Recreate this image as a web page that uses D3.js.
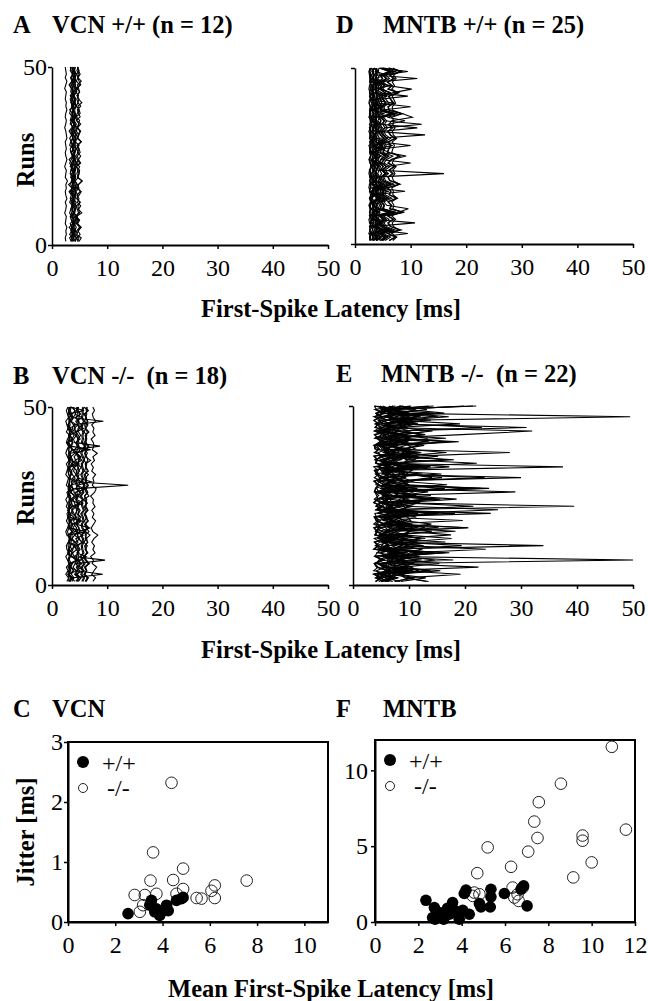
<!DOCTYPE html>
<html>
<head>
<meta charset="utf-8">
<script src="https://cdn.jsdelivr.net/npm/d3@7"></script>
<style>
  body { margin: 0; background: #fff; }
</style>
</head>
<body>
<div id="chart"></div>
<script>
// tick values
var latTicks = [0, 10, 20, 30, 40, 50];
var runTicks = [0, 50];
var vcnXTicks = [0, 2, 4, 6, 8, 10];
var vcnYTicks = [0, 1, 2, 3];
var mntbXTicks = [0, 2, 4, 6, 8, 10, 12];
var mntbYTicks = [0, 5, 10];

// first-spike latency [ms] of runs 1..50, one string per cell
var vcnWT = [
  "2.5 2.4 2.6 2.5 2.7 2.4 2.5 2.6 2.3 2.5 2.6 2.4 2.7 2.5 2.4 2.6 2.5 2.8 2.4 2.5 2.6 2.3 2.5 2.7 2.5 2.4 2.6 2.5 2.4 2.7 2.6 2.5 2.3 2.5 2.6 2.4 2.5 2.7 2.5 2.6 2.4 2.5 2.6 2.3 2.5 2.7 2.4 2.6 2.5 2.4",
  "3.4 3.9 3.2 3.6 3.1 3.8 3.5 3.3 4.1 3.4 3.7 3.2 3.5 3.9 3.3 3.6 3.0 3.8 3.4 3.5 4.2 3.3 3.6 3.1 3.7 3.5 3.9 3.2 3.4 3.8 3.5 3.1 3.6 4.0 3.3 3.5 3.7 3.2 3.9 3.4 3.6 3.3 3.8 3.5 3.1 3.7 3.4 4.0 3.5 3.3",
  "3.5 3.2 3.7 3.4 3.6 3.3 3.9 3.5 3.2 3.4 3.6 3.8 3.3 3.5 3.1 3.7 3.4 3.5 3.9 3.3 3.4 3.6 3.2 3.5 3.8 3.4 3.3 3.7 3.5 3.2 3.6 3.4 3.9 3.3 3.5 3.7 3.2 3.4 3.6 3.5 3.3 3.8 3.4 3.5 3.2 3.6 3.4 3.7 3.3 3.5",
  "3.7 3.9 3.6 3.8 3.5 3.7 4.0 3.6 3.8 3.7 3.9 3.5 3.8 3.7 3.6 4.1 3.7 3.8 3.5 3.9 3.7 3.6 3.8 4.0 3.7 3.5 3.8 3.6 3.9 3.7 3.8 3.6 3.7 4.1 3.5 3.8 3.7 3.9 3.6 3.8 3.7 3.5 3.9 3.7 3.8 3.6 4.0 3.7 3.8 3.6",
  "3.9 3.8 4.0 3.9 3.8 3.9 4.0 3.8 3.9 4.1 3.8 3.9 3.9 4.0 3.7 3.9 3.8 4.0 3.9 3.8 3.9 4.0 3.8 3.9 3.9 4.1 3.8 3.9 4.0 3.8 3.9 3.8 4.0 3.9 3.7 3.9 4.0 3.8 3.9 3.9 4.0 3.8 3.9 4.0 3.8 3.9 3.9 4.1 3.8 3.9",
  "4.0 4.2 3.9 4.1 3.8 4.0 4.3 4.0 3.9 4.1 4.2 3.8 4.0 4.1 3.9 4.3 4.0 3.8 4.1 4.0 3.9 4.2 4.0 4.1 3.8 4.0 4.2 3.9 4.1 4.0 4.3 3.9 4.0 4.2 3.8 4.1 4.0 3.9 4.2 4.0 4.1 3.8 4.0 4.3 3.9 4.1 4.0 4.2 3.9 4.0",
  "4.2 4.5 3.9 4.1 4.4 4.0 4.2 4.6 3.9 4.2 4.1 4.4 3.8 4.2 4.3 4.0 4.5 4.1 4.2 3.9 4.3 4.1 4.6 4.0 4.2 3.9 4.4 4.2 4.1 4.3 3.9 4.2 4.5 4.1 4.0 4.3 4.2 3.8 4.4 4.1 4.2 4.0 4.5 4.1 4.3 3.9 4.2 4.4 4.0 4.2",
  "4.2 4.4 4.1 4.3 4.0 4.2 4.5 4.2 4.1 4.3 4.4 4.0 4.2 4.3 4.1 4.5 4.2 4.0 4.3 4.2 4.1 4.4 4.2 4.3 4.0 4.2 4.4 4.1 4.3 4.2 4.5 4.1 4.2 4.4 4.0 4.3 4.2 4.1 4.4 4.2 4.3 4.0 4.2 4.5 4.1 4.3 4.2 4.4 4.1 4.2",
  "4.6 4.9 4.3 4.5 5.0 4.4 4.7 4.2 4.8 4.6 4.4 5.1 4.5 4.7 4.3 4.9 4.6 4.2 4.8 4.5 4.7 4.4 5.0 4.6 4.3 4.8 4.5 4.9 4.2 4.6 4.8 4.4 4.7 5.2 4.5 4.3 4.6 4.9 4.4 4.7 4.5 4.8 4.3 4.6 5.0 4.4 4.7 4.5 4.9 4.6",
  "4.9 5.3 4.5 4.8 5.2 4.6 5.0 4.4 5.4 4.8 4.7 5.1 4.5 4.9 5.3 4.6 4.8 5.5 4.7 4.9 5.0 4.4 5.2 4.8 4.6 5.1 4.9 4.5 5.3 4.7 4.9 5.2 4.6 4.8 5.0 4.4 5.1 4.9 4.7 5.4 4.8 4.6 5.0 4.5 5.2 4.9 4.7 5.1 4.8 4.6",
  "4.8 4.5 5.1 4.7 5.3 4.6 4.9 4.4 5.0 4.8 5.2 4.6 4.9 4.5 5.1 4.7 4.8 5.4 4.6 4.9 4.7 5.0 4.4 4.8 5.2 4.6 4.9 4.7 5.3 4.5 4.8 5.0 4.6 4.9 4.4 5.1 4.8 4.6 5.2 4.7 4.9 4.5 5.0 4.8 4.6 5.3 4.7 4.9 4.5 4.8",
  "3.7 3.5 3.8 3.6 3.7 3.9 3.6 3.7 3.5 3.8 3.6 3.7 3.9 3.6 3.5 3.7 3.8 3.6 3.7 3.9 3.5 3.7 3.6 3.8 3.7 3.6 3.9 3.7 3.5 3.7 3.8 3.6 3.7 3.5 3.9 3.7 3.6 3.8 3.7 3.6 3.7 3.9 3.6 3.7 3.5 3.8 3.6 3.7 3.8 3.6"
];

var vcnKO = [
  "4.1 3.6 9.2 4.4 3.8 4.2 9.6 4.0 3.7 4.5 3.9 4.3 3.6 4.1 4.6 3.8 4.2 3.9 4.4 4.0 3.7 4.3 4.1 3.8 4.5 4.0 3.9 13.8 4.2 3.7 4.4 3.9 4.1 3.6 4.3 4.0 4.5 3.8 8.7 4.1 3.9 4.4 3.7 4.2 4.0 9.3 3.8 4.3 4.1 3.9",
  "3.2 3.8 2.9 4.5 3.3 3.0 5.1 3.4 2.8 3.6 4.2 3.1 3.5 2.9 6.2 3.3 3.7 3.0 4.0 3.2 2.8 3.6 4.8 3.1 3.4 2.9 3.8 3.3 5.5 3.0 3.5 3.2 2.9 4.1 3.6 3.0 3.3 7.0 3.4 2.9 3.7 3.1 4.4 3.2 2.8 3.5 3.9 3.0 5.8 3.3",
  "4.6 5.3 4.2 5.8 4.7 4.4 5.1 6.2 4.5 4.9 4.3 5.5 4.8 4.1 5.0 6.8 4.6 4.4 5.2 4.7 4.9 4.2 5.6 4.5 4.8 5.3 4.3 4.6 7.1 4.8 4.4 5.0 4.7 4.2 5.4 4.9 4.5 6.0 4.6 4.3 5.1 4.8 4.4 5.7 4.6 4.9 4.2 5.2 4.7 4.5",
  "3.3 3.7 3.1 3.9 3.4 3.2 4.6 3.5 3.0 3.6 3.2 4.1 3.4 3.3 3.8 3.0 3.5 5.2 3.3 3.4 3.7 3.1 3.6 3.2 4.3 3.4 3.0 3.5 3.9 3.2 3.4 3.6 3.1 4.9 3.3 3.5 3.2 3.7 3.4 3.0 3.8 3.3 3.5 3.1 4.4 3.4 3.2 3.6 3.3 3.5",
  "4.3 4.8 4.1 4.5 5.2 4.2 4.6 4.0 4.9 4.4 4.1 4.7 4.3 5.6 4.2 4.5 4.0 4.8 4.4 4.2 4.6 4.1 5.0 4.3 4.5 4.2 6.1 4.4 4.1 4.7 4.3 4.5 4.0 4.8 4.2 5.3 4.4 4.1 4.6 4.3 4.9 4.2 4.5 4.0 4.7 4.3 5.5 4.2 4.4 4.6",
  "7.4 7.9 7.2 7.6 8.1 7.3 7.5 7.0 7.8 7.4 7.7 7.2 7.6 8.3 7.4 7.1 7.5 7.9 7.3 7.6 7.2 7.8 7.4 7.5 7.0 7.7 8.0 7.3 7.6 7.4 7.9 7.2 7.5 7.1 7.7 7.4 8.2 7.3 7.6 7.5 7.1 7.8 7.4 7.6 7.2 7.9 7.5 7.3 7.7 7.4",
  "2.7 3.0 2.5 2.9 2.6 3.2 2.8 2.5 3.0 2.7 2.6 2.9 3.4 2.7 2.5 2.8 3.0 2.6 2.9 2.7 3.1 2.6 2.8 2.5 2.9 2.7 3.3 2.6 2.8 3.0 2.5 2.7 2.9 2.6 3.1 2.8 2.5 2.7 3.0 2.6 2.8 3.2 2.6 2.9 2.7 2.5 3.0 2.8 2.6 2.9",
  "3.2 3.5 3.0 3.4 2.9 3.6 3.1 3.3 3.8 3.0 3.4 3.1 3.3 2.9 3.7 3.2 3.0 3.5 3.1 3.4 3.0 3.6 3.2 3.3 2.9 3.4 3.9 3.1 3.2 3.0 3.5 3.3 3.0 3.6 3.1 3.2 3.4 2.9 3.3 3.7 3.1 3.2 3.5 3.0 3.3 3.1 3.6 3.2 3.0 3.4",
  "3.6 4.0 3.5 3.9 3.4 3.7 4.3 3.6 3.5 3.8 3.9 3.4 3.7 3.6 4.1 3.5 3.8 3.4 4.4 3.7 3.6 3.9 3.5 3.7 4.0 3.4 3.8 3.6 3.5 4.2 3.7 3.5 3.9 3.6 3.8 3.4 4.1 3.7 3.5 3.8 3.6 4.0 3.5 3.7 3.9 3.4 3.8 3.6 4.2 3.5",
  "4.8 5.2 4.6 5.0 4.5 5.4 4.7 4.9 4.6 5.1 4.7 5.5 4.8 4.6 5.0 4.9 4.5 5.3 4.7 4.8 5.1 4.6 4.9 5.6 4.7 4.5 5.0 4.8 5.2 4.6 4.9 4.7 5.3 4.6 4.8 5.0 4.5 5.1 4.7 4.9 4.6 5.2 4.8 4.7 5.4 4.6 4.9 5.0 4.7 4.8",
  "4.5 4.9 4.3 4.7 4.4 5.1 4.6 4.4 4.8 4.5 4.7 4.3 5.0 4.6 4.5 4.9 4.4 4.7 5.2 4.5 4.4 4.8 4.6 4.3 4.7 5.0 4.5 4.6 4.4 4.9 4.6 4.4 4.8 4.5 5.1 4.7 4.3 4.6 4.9 4.5 4.7 4.5 4.4 5.0 4.6 4.8 4.4 4.7 4.5 4.6",
  "5.4 5.7 5.2 5.5 5.3 5.8 5.4 5.1 5.6 5.4 5.3 5.6 5.5 5.2 5.9 5.4 5.3 5.6 5.5 5.2 5.7 5.4 5.3 5.5 5.1 5.6 5.4 5.8 5.3 5.5 5.2 5.6 5.4 5.3 5.7 5.5 5.2 5.4 5.9 5.3 5.5 5.4 5.6 5.2 5.4 5.7 5.3 5.5 5.4 5.6",
  "5.6 5.9 5.4 5.7 5.5 6.0 5.6 5.3 5.8 5.6 5.5 5.8 5.7 5.4 6.1 5.6 5.5 5.8 5.7 5.4 5.9 5.6 5.5 5.7 5.3 5.8 5.6 6.0 5.5 5.7 5.4 5.8 5.6 5.5 5.9 5.7 5.4 5.6 6.1 5.5 5.7 5.6 5.8 5.4 5.6 5.9 5.5 5.7 5.6 5.8",
  "6.1 6.6 5.8 6.3 5.9 6.8 6.2 5.7 6.5 6.0 6.4 5.8 6.2 6.9 6.0 6.3 5.9 6.6 6.1 5.8 6.5 6.0 6.3 5.7 6.7 6.2 5.9 6.4 6.1 6.0 5.8 6.6 6.2 6.0 7.0 6.1 5.9 6.3 6.5 5.8 6.2 6.0 6.7 6.1 5.9 6.4 6.2 5.8 6.6 6.1",
  "6.0 6.4 5.8 6.2 5.9 6.6 6.0 5.7 6.3 6.1 5.9 6.5 6.0 6.2 5.8 6.7 6.1 5.9 6.3 6.0 6.2 5.8 6.4 6.0 5.9 6.5 6.1 5.7 6.2 6.0 6.6 5.9 6.1 6.3 5.8 6.0 6.4 6.1 5.9 6.2 6.0 6.3 5.8 6.1 6.5 5.9 6.2 6.0 6.4 5.8",
  "6.2 6.5 6.0 6.3 6.1 6.6 6.2 5.9 6.4 6.2 6.1 6.4 6.3 6.0 6.7 6.2 6.1 6.4 6.3 6.0 6.5 6.2 6.1 6.3 5.9 6.4 6.2 6.6 6.1 6.3 6.0 6.4 6.2 6.1 6.5 6.3 6.0 6.2 6.7 6.1 6.3 6.2 6.4 6.0 6.2 6.5 6.1 6.3 6.2 6.4",
  "3.0 3.1 2.9 3.0 3.2 3.0 2.9 3.1 3.0 3.2 2.9 3.0 3.1 3.0 2.8 3.1 3.0 3.2 2.9 3.0 3.1 3.0 2.9 3.2 3.0 3.1 2.9 3.0 3.1 3.3 3.0 2.9 3.1 3.0 3.2 2.9 3.0 3.1 3.0 2.8 3.1 3.0 3.2 2.9 3.0 3.1 3.0 2.9 3.1 3.0",
  "3.1 3.4 3.0 3.2 3.5 3.1 3.0 3.3 3.2 2.9 3.4 3.1 3.2 3.0 3.6 3.2 3.1 3.3 2.9 3.2 3.0 3.3 3.1 3.5 3.2 3.0 3.4 3.1 3.2 3.3 3.1 2.9 3.3 3.2 3.0 3.4 3.1 3.6 3.2 3.0 3.3 3.1 3.2 3.4 3.0 3.2 3.1 3.5 3.0 3.2"
];

var mntbWT = [
  "2.6 2.8 2.5 2.7 3.1 2.6 2.5 2.9 2.6 2.7 2.5 2.8 2.6 3.4 2.7 2.5 2.6 2.9 2.7 2.5 2.6 3.0 2.7 2.5 2.8 2.6 2.7 2.5 3.2 2.6 2.7 2.5 2.8 2.6 2.9 2.5 2.7 2.6 2.8 2.5 2.6 3.3 2.7 2.5 2.6 2.8 2.7 2.6 2.5 2.7",
  "2.8 3.4 2.6 5.2 2.9 2.7 3.1 2.6 4.3 2.8 2.7 3.0 2.6 2.9 6.1 2.8 2.7 3.3 2.6 2.9 2.7 2.8 3.6 2.6 2.9 2.7 5.0 2.8 2.6 3.1 2.7 2.9 2.6 3.8 2.8 2.7 2.6 3.0 2.9 7.2 2.8 2.6 3.2 2.7 2.9 4.6 2.7 2.8 2.6 3.0",
  "2.7 2.6 2.9 2.6 2.8 2.7 3.1 2.6 2.7 2.9 2.6 2.8 2.7 3.2 2.6 2.7 2.9 2.6 2.8 2.7 2.6 3.0 2.7 2.6 2.8 2.9 2.6 2.7 3.3 2.6 2.8 2.7 2.6 2.9 2.7 3.0 2.6 2.8 2.7 2.6 2.9 2.7 2.6 2.8 3.1 2.6 2.7 2.9 2.6 2.8",
  "3.0 3.5 2.8 3.2 2.9 4.1 3.0 2.8 3.3 2.9 3.6 2.8 3.0 3.1 2.9 4.4 2.8 3.2 3.0 2.9 3.4 2.8 3.1 2.9 3.9 3.0 2.8 3.2 2.9 3.5 2.8 3.0 4.6 2.9 3.1 2.8 3.3 3.0 2.9 3.7 3.0 2.8 3.2 2.9 4.0 3.1 2.8 3.0 3.4 2.9",
  "3.2 3.1 3.3 3.2 3.0 3.4 3.1 3.2 3.3 3.1 3.2 3.5 3.1 3.2 3.0 3.3 3.2 3.1 3.4 3.2 3.1 3.3 3.2 3.0 3.2 3.4 3.1 3.3 3.2 3.1 3.3 3.2 3.1 3.5 3.2 3.0 3.3 3.1 3.2 3.4 3.2 3.1 3.3 3.2 3.1 3.4 3.2 3.0 3.3 3.2",
  "3.2 3.9 3.0 5.4 3.3 3.1 3.6 3.0 3.4 4.5 3.1 3.3 3.0 3.7 3.2 6.0 3.1 3.4 3.0 3.5 3.2 3.0 4.2 3.1 3.3 3.0 3.6 3.2 5.1 3.1 3.4 3.0 3.2 3.8 3.1 3.0 4.7 3.3 3.1 3.2 3.0 3.5 3.1 3.3 6.4 3.2 3.0 3.4 3.1 3.6",
  "3.4 3.8 3.2 3.5 3.3 4.2 3.4 3.1 3.6 3.3 3.5 3.2 3.9 3.3 3.4 3.2 4.5 3.3 3.5 3.2 3.4 3.7 3.2 3.3 3.6 3.1 3.4 4.0 3.3 3.5 3.2 3.4 3.3 3.8 3.2 3.5 3.3 3.1 4.4 3.4 3.3 3.6 3.2 3.4 3.3 3.9 3.2 3.5 3.3 3.4",
  "3.3 3.9 3.1 4.6 3.4 10.8 3.2 3.6 3.1 4.0 3.3 3.2 5.2 3.4 3.1 3.7 3.2 3.5 3.1 3.9 3.3 3.2 3.6 3.1 4.8 3.3 3.2 3.5 3.1 3.4 3.6 3.2 3.1 4.2 3.3 3.2 3.5 3.1 3.7 3.3 3.2 5.8 3.4 3.1 3.3 3.6 3.2 3.4 3.1 3.5",
  "3.5 4.1 3.3 3.8 3.4 4.6 3.5 3.3 3.9 3.4 3.6 3.3 4.2 3.5 9.0 3.4 3.7 3.3 3.5 4.0 3.4 3.6 3.3 3.8 3.5 3.3 4.4 3.5 3.4 3.7 3.3 3.9 3.5 3.4 3.6 3.3 4.1 3.5 3.4 3.8 3.5 3.3 3.7 4.3 3.4 3.6 3.3 3.5 3.9 3.4",
  "3.8 4.2 3.6 3.9 3.7 4.5 3.8 3.6 4.0 3.7 3.9 3.6 4.3 3.7 3.8 3.6 4.7 3.7 3.9 3.6 3.8 4.1 3.6 3.7 4.0 3.5 3.8 4.4 3.7 3.9 3.6 3.8 3.7 4.2 3.6 3.9 3.7 3.5 4.6 3.8 3.7 4.0 3.6 3.8 3.7 4.3 3.6 3.9 3.7 3.8",
  "3.9 4.5 9.5 4.1 3.8 4.8 3.9 3.7 4.3 3.8 4.0 3.7 4.6 3.9 4.1 3.7 5.1 3.8 4.0 3.7 3.9 4.4 3.7 3.8 4.2 3.6 3.9 4.7 3.8 4.0 3.7 3.9 3.8 4.5 3.7 4.0 3.8 3.6 4.9 3.9 3.8 4.2 3.7 3.9 3.8 4.6 3.7 4.0 3.8 3.9",
  "3.8 4.6 3.5 5.5 3.9 3.6 4.2 3.5 6.3 3.7 3.9 3.5 4.4 3.7 3.6 5.0 3.8 3.5 4.1 3.6 3.9 3.5 4.7 3.8 3.6 4.0 3.5 6.8 3.7 3.9 12.6 3.6 4.3 3.5 3.8 3.6 5.2 3.7 3.5 4.0 3.6 9.5 3.8 3.5 4.4 3.7 3.6 5.6 3.8 3.5",
  "3.9 4.7 3.6 5.1 3.8 3.6 4.4 3.7 6.0 3.8 4.0 3.6 4.8 3.7 3.9 3.6 5.4 3.8 3.6 16.0 3.8 4.2 3.6 3.9 4.6 3.7 3.8 3.6 5.8 3.9 3.7 4.3 3.6 3.8 3.9 3.6 6.5 3.8 3.7 4.1 3.6 3.9 4.8 3.7 3.8 3.6 11.2 3.8 4.2 3.7",
  "4.5 5.3 4.2 6.0 4.6 4.3 5.0 4.2 6.6 4.5 4.7 4.3 5.4 4.4 4.6 4.2 5.9 4.5 4.3 4.8 4.4 5.1 4.3 4.6 5.6 4.2 4.5 4.7 4.3 5.2 4.5 4.3 4.9 4.4 4.6 4.2 7.1 4.5 10.0 4.4 4.6 4.3 5.5 4.4 4.7 4.2 4.9 4.5 6.2 4.3",
  "4.6 5.4 4.4 5.8 4.7 4.5 5.2 4.4 6.3 4.6 4.8 4.4 5.5 4.6 4.7 4.4 5.0 4.6 4.5 5.9 4.6 5.1 4.4 4.7 5.6 4.5 4.6 10.0 4.4 5.2 4.6 4.4 4.9 4.5 4.7 4.4 6.7 4.6 4.5 4.8 4.7 4.4 5.3 4.5 4.8 4.4 5.0 4.6 6.1 4.5",
  "4.8 5.9 4.5 6.8 5.0 4.6 5.6 4.5 7.4 4.9 5.2 4.6 6.1 4.8 5.0 4.5 6.5 4.9 4.6 5.4 4.8 5.7 10.0 4.6 5.1 6.2 4.7 4.9 4.5 5.8 4.9 4.6 11.2 4.7 5.3 4.5 7.0 4.8 4.6 5.5 5.0 4.7 6.3 4.6 5.2 4.5 5.7 4.9 6.9 4.7",
  "4.9 5.8 4.6 6.5 5.1 4.7 5.5 4.6 7.2 5.0 5.3 4.7 6.0 4.9 5.1 4.6 6.4 5.0 4.7 5.4 4.9 5.6 4.7 5.2 6.1 4.6 4.8 5.0 4.6 5.7 5.0 4.7 5.3 12.0 5.2 4.6 6.9 4.9 4.7 5.5 5.1 4.8 6.2 4.7 5.3 4.6 5.6 5.0 9.5 4.8",
  "5.1 5.8 4.9 6.2 5.2 5.0 5.6 4.9 6.7 5.1 5.3 4.9 5.9 5.1 5.2 4.9 6.4 5.2 5.0 5.5 5.1 5.7 4.9 5.2 6.0 5.0 5.1 5.3 4.9 5.8 5.2 4.9 5.4 5.0 5.3 4.9 7.1 5.1 5.0 5.6 5.2 4.9 6.3 5.0 5.4 4.9 5.7 5.1 6.5 5.0",
  "5.4 6.4 5.1 7.2 5.6 5.2 6.1 5.1 7.8 9.6 5.7 5.2 6.6 5.4 5.6 5.1 7.0 5.5 5.2 6.0 5.4 6.3 5.2 5.7 6.8 5.1 5.3 5.6 5.2 6.4 5.5 5.2 5.9 5.3 5.7 5.1 7.5 5.4 5.2 6.1 5.6 5.3 6.9 10.2 5.8 5.1 6.2 5.5 7.3 5.3",
  "6.2 7.4 5.9 8.3 6.4 6.0 7.0 5.9 8.9 6.3 6.6 6.0 7.6 6.2 6.5 5.9 8.1 6.3 6.0 6.9 6.2 7.2 6.0 6.6 9.2 5.9 6.1 6.5 6.0 7.3 6.4 6.0 6.8 6.1 6.6 10.3 8.6 6.2 6.0 7.0 6.5 6.1 7.9 6.0 6.7 5.9 7.1 6.3 8.4 6.1",
  "6.1 7.2 5.8 8.0 6.3 5.9 6.8 5.8 8.7 6.2 6.5 5.9 7.4 6.1 6.4 5.8 7.9 6.2 5.9 6.7 6.1 7.0 5.9 6.5 8.2 5.8 6.0 6.4 5.9 7.1 6.3 5.9 6.6 6.0 9.0 5.8 8.4 6.1 5.9 6.8 6.4 6.0 7.7 5.9 6.6 5.8 6.9 6.2 8.1 6.0",
  "6.8 7.5 6.6 7.9 6.9 6.7 7.3 6.6 8.3 6.8 7.0 6.6 7.6 6.8 6.9 6.6 8.0 6.9 6.7 7.2 6.8 7.4 6.7 7.0 7.8 6.6 6.8 7.1 6.7 7.5 6.9 6.7 7.2 6.8 7.0 6.6 8.5 6.8 6.7 7.3 7.0 6.7 7.7 6.6 7.1 6.7 7.4 6.9 8.1 6.8",
  "4.3 4.7 4.1 4.4 4.2 4.9 4.3 4.1 4.5 4.2 4.4 4.1 4.8 4.2 4.3 4.1 5.0 4.2 4.4 4.1 4.3 4.6 4.1 4.2 4.5 4.0 4.3 4.9 4.2 4.4 4.1 4.3 4.2 4.7 4.1 4.4 4.2 4.0 5.1 4.3 4.2 4.5 4.1 4.3 4.2 4.8 4.1 4.4 4.2 4.3",
  "2.8 2.7 2.9 2.8 2.6 3.0 2.7 2.8 2.9 2.7 2.8 3.1 2.7 2.8 2.6 2.9 2.8 2.7 3.0 2.8 2.7 2.9 2.8 2.6 2.8 3.0 2.7 2.9 2.8 2.7 2.9 2.8 2.7 3.1 2.8 2.6 2.9 2.7 2.8 3.0 2.8 2.7 2.9 2.8 2.7 3.0 2.8 2.6 2.9 2.8",
  "3.9 3.8 4.0 3.9 3.7 4.1 3.8 3.9 4.0 3.8 3.9 4.2 3.8 3.9 3.7 4.0 3.9 3.8 4.1 3.9 3.8 4.0 3.9 3.7 3.9 4.1 3.8 4.0 3.9 3.8 4.0 3.9 3.8 4.2 3.9 3.7 4.0 3.8 3.9 4.1 3.9 3.8 4.0 3.9 3.8 4.1 3.9 3.7 4.0 3.9"
];

var mntbKO = [
  "6.5 4.8 9.2 5.6 22.4 7.1 50.0 5.3 8.4 6.2 12.6 4.9 7.8 5.7 18.3 6.4 5.1 9.6 7.0 14.2 5.5 39.5 6.8 5.0 11.3 7.4 5.8 9.9 6.1 23.5 5.2 8.7 6.6 5.4 16.8 7.2 5.6 10.4 6.0 8.1 5.3 12.9 7.5 31.0 5.9 9.3 49.5 6.7 5.4 21.4",
  "5.2 7.6 4.5 13.8 6.1 4.8 9.4 5.5 17.2 4.9 34.0 5.3 8.2 4.6 6.9 11.7 5.0 7.3 4.7 9.8 5.4 6.5 4.8 15.6 7.0 29.0 5.1 8.6 4.9 6.3 12.4 5.6 37.5 4.8 7.9 5.2 10.5 6.0 4.7 8.8 5.3 19.4 32.0 6.2 4.9 9.1 5.7 14.5 5.0 7.2",
  "4.6 6.8 4.2 9.5 5.3 4.4 12.3 4.9 7.4 4.3 5.8 16.5 4.5 8.1 5.0 4.3 10.2 5.6 4.7 6.9 4.4 8.8 5.1 4.6 13.9 4.3 6.2 5.4 4.5 30.0 5.0 7.7 4.4 6.5 4.8 11.1 28.0 5.2 4.6 8.3 4.9 6.0 4.3 9.7 5.5 4.5 15.2 4.8 7.1 5.3",
  "5.0 7.9 4.6 10.8 5.6 4.8 8.6 5.3 14.1 4.7 6.4 5.1 9.3 4.9 5.8 20.5 5.2 7.0 4.8 11.6 5.4 8.2 4.7 6.1 5.5 4.9 24.3 5.3 7.5 4.8 6.6 5.0 12.8 5.7 4.9 8.9 5.4 6.3 4.7 17.4 5.2 9.6 4.8 6.8 5.5 13.3 5.0 7.6 4.9 22.0",
  "5.0 6.7 5.3 10.1 5.2 6.2 17.9 5.5 7.6 5.1 12.4 5.7 8.8 5.0 6.5 5.8 5.2 19.6 5.6 7.9 5.1 7.0 5.3 14.2 6.0 5.2 9.5 5.7 6.8 5.0 15.8 5.5 10.4 5.1 7.3 5.8 11.9 5.3 8.1 5.2 16.6 5.4 8.4 4.9 11.6 6.0 5.1 9.2 5.6 13.5",
  "5.6 7.8 5.1 10.2 6.0 5.3 8.4 5.7 12.5 5.2 6.5 5.4 9.1 5.3 6.1 15.3 5.6 7.2 5.2 10.9 5.8 8.0 5.1 6.3 5.9 5.3 16.4 5.7 7.5 5.2 6.6 5.4 11.8 6.0 5.3 8.7 5.8 6.4 5.1 13.6 5.6 9.3 5.2 6.9 5.9 10.6 5.4 7.7 5.3 14.4",
  "4.1 5.2 3.8 6.7 4.3 3.9 5.5 4.0 9.8 3.8 4.6 3.9 7.1 4.0 4.4 3.8 5.9 4.2 3.9 24.6 4.2 5.4 3.8 4.5 6.2 3.9 4.1 4.7 3.8 5.8 4.3 3.9 6.5 4.1 4.4 3.8 8.2 4.0 3.9 5.1 4.5 3.9 6.9 4.0 4.6 3.8 5.3 4.2 7.4 3.9",
  "4.0 4.9 3.7 6.2 4.2 3.8 5.1 3.9 8.6 3.7 4.4 3.8 6.6 3.9 4.2 3.7 5.5 4.1 3.8 18.2 4.1 5.0 3.7 4.3 5.8 3.8 4.0 4.5 3.7 5.4 4.2 3.8 6.0 4.0 4.3 3.7 7.5 3.9 3.8 4.8 4.4 3.8 6.3 3.9 4.5 3.7 4.9 4.1 6.8 3.8",
  "8.4 5.6 4.9 7.0 5.3 10.3 4.8 5.9 5.0 7.6 5.1 5.7 12.9 5.2 6.2 4.9 8.9 5.4 6.8 4.8 5.8 5.5 5.0 14.0 5.3 6.4 4.9 6.0 5.1 9.5 5.6 5.0 7.3 5.4 5.9 4.8 11.4 5.3 7.8 4.9 6.1 5.6 8.7 5.1 6.6 5.0 12.1 5.2 6.6 4.8",
  "7.6 10.3 6.9 13.8 8.1 7.2 11.2 7.8 16.4 7.0 8.7 7.3 12.1 7.4 8.3 20.6 7.7 9.4 7.1 14.6 7.9 10.8 7.0 8.5 8.0 7.3 22.8 7.8 9.9 7.1 9.0 7.4 17.2 8.2 7.3 11.7 7.9 8.6 7.0 18.9 7.6 12.6 7.2 9.2 8.1 13.9 7.5 10.1 7.3 19.8",
  "7.4 11.0 8.0 15.6 7.2 8.9 7.5 11.9 7.6 8.5 19.4 7.9 9.6 7.3 14.1 8.1 10.6 7.2 8.7 8.2 7.5 21.5 8.0 10.0 7.3 9.2 7.6 16.8 8.4 7.5 11.5 8.1 8.8 7.2 18.0 7.8 12.2 7.4 9.4 8.3 13.4 7.7 10.3 7.5 19.1 7.8 10.1 7.1 13.2 8.3",
  "13.5 9.4 19.2 8.5 10.6 8.8 14.6 9.0 10.1 23.7 9.3 11.4 8.6 17.5 9.6 12.9 8.5 10.3 9.7 8.8 25.9 9.4 11.9 8.6 10.9 9.0 20.3 10.0 8.9 14.1 9.5 10.5 8.5 22.1 9.2 15.2 8.7 11.1 9.8 16.6 9.1 12.2 8.9 23.0 9.2 12.4 8.4 16.3 9.8 8.7",
  "13.1 9.2 8.4 11.8 8.9 15.4 8.3 9.7 8.5 12.4 8.6 9.4 17.6 8.8 10.3 8.4 14.0 9.0 11.3 8.3 9.6 9.1 8.5 18.5 8.9 10.8 8.4 9.9 8.6 15.9 9.3 8.5 12.0 9.0 9.8 8.3 16.7 8.8 12.7 8.4 10.1 9.2 13.5 8.7 11.1 8.5 17.1 8.8 11.0 8.2",
  "8.5 13.0 8.0 9.1 8.2 10.9 8.3 8.9 14.6 8.4 9.5 8.1 12.2 8.6 10.1 8.0 9.0 8.7 8.2 15.3 8.5 9.8 8.1 9.3 8.3 13.4 8.8 8.2 10.7 8.6 9.2 8.0 13.9 8.4 11.2 8.1 9.6 8.8 11.8 8.3 10.0 8.2 14.2 8.4 9.9 7.9 11.5 8.7 8.1 10.4",
  "5.7 6.9 5.3 8.1 5.9 5.4 7.3 5.8 9.4 5.3 6.3 5.5 7.7 5.6 6.0 10.8 5.7 6.6 5.4 8.6 5.8 7.0 5.3 6.2 5.9 5.5 11.5 5.8 6.8 5.4 6.4 5.6 9.0 6.0 5.5 7.5 5.8 6.3 5.3 9.9 5.7 7.9 5.4 6.5 5.9 8.3 5.6 7.1 5.5 10.2",
  "5.8 8.0 6.3 5.9 7.4 6.2 8.9 5.8 6.6 6.0 7.7 6.0 6.4 9.8 6.1 6.9 5.9 8.3 6.2 7.2 5.8 6.5 6.3 6.0 10.4 6.2 7.0 5.9 6.7 6.0 8.6 6.4 6.0 7.5 6.2 6.6 5.8 9.2 6.1 7.8 5.9 6.8 6.3 8.1 6.0 7.3 6.0 9.5 6.1 7.1",
  "6.1 7.2 6.3 8.3 6.0 6.7 6.1 7.4 6.2 6.5 8.9 6.3 6.9 6.1 7.9 6.4 7.1 6.0 6.6 6.4 6.1 9.3 6.3 7.0 6.1 6.8 6.2 8.1 6.5 6.1 7.3 6.3 6.7 6.0 8.6 6.3 7.6 6.1 6.9 6.4 7.8 6.2 7.2 6.1 8.8 6.3 7.0 6.0 7.7 6.4",
  "6.3 5.8 7.7 6.2 9.9 5.7 6.7 5.9 8.1 6.0 6.4 11.3 6.1 7.0 5.8 9.1 6.2 7.5 5.7 6.6 6.3 5.9 12.0 6.2 7.2 5.8 6.8 6.0 9.5 6.4 5.9 7.9 6.2 6.7 5.7 10.4 6.1 8.3 5.8 6.9 6.3 8.8 6.0 7.6 5.9 10.7 6.1 7.4 5.7 8.6",
  "7.1 4.0 4.8 4.2 5.9 4.2 4.6 8.0 4.3 5.1 4.1 6.5 4.4 5.4 4.0 4.7 4.5 4.2 8.6 4.4 5.2 4.1 4.9 4.2 6.8 4.6 4.2 5.7 4.4 4.8 4.0 7.4 4.3 6.0 4.1 5.0 4.5 6.3 4.2 5.5 4.2 7.7 4.3 5.3 4.0 6.2 4.5 4.1 5.6 4.4",
  "5.3 4.1 6.8 3.7 4.5 3.9 5.6 3.9 4.3 7.6 4.0 4.8 3.8 6.2 4.1 5.1 3.7 4.4 4.2 3.9 8.2 4.1 4.9 3.8 4.6 3.9 6.5 4.3 3.9 5.4 4.1 4.5 3.7 7.0 4.0 5.7 3.8 4.7 4.2 6.0 3.9 5.2 3.9 7.3 4.0 5.0 3.7 5.9 4.2 3.8",
  "6.0 6.9 5.7 7.7 6.2 5.8 7.1 6.1 8.5 5.7 6.5 5.9 7.4 5.9 6.3 9.3 6.0 6.8 5.8 8.0 6.1 7.0 5.7 6.4 6.2 5.9 9.8 6.1 6.9 5.8 6.6 5.9 8.3 6.3 5.9 7.2 6.1 6.5 5.7 8.8 6.0 7.5 5.8 6.7 6.2 7.8 5.9 7.0 5.9 9.0",
  "4.0 5.1 3.7 6.1 4.2 3.8 5.4 4.1 7.1 3.7 4.6 3.9 5.8 3.9 4.3 8.0 4.0 4.9 3.8 6.4 4.1 5.2 3.7 4.5 4.2 3.9 8.7 4.1 5.0 3.8 4.7 3.9 6.8 4.3 3.9 5.5 4.1 4.6 3.7 7.3 4.0 5.9 3.8 4.8 4.2 6.2 3.9 5.3 3.9 7.6"
];

// mean first-spike latency [ms] and jitter [ms] per cell
var vcnWTMean   = [2.54, 3.53, 3.46, 3.74, 3.88, 4.03, 4.17, 4.24, 4.59, 4.87, 4.80, 3.67];
var vcnWTJitter = [0.14, 0.36, 0.28, 0.22, 0.11, 0.19, 0.28, 0.19, 0.36, 0.41, 0.39, 0.17];
var vcnKOMean   = [4.38, 3.60, 4.87, 3.49, 4.45, 7.56, 2.82, 3.25, 3.74, 4.87, 4.59, 5.44, 5.65, 6.21, 6.07, 6.21, 3.04, 3.18];
var vcnKOJitter = [2.32, 1.16, 0.89, 0.69, 0.70, 0.69, 0.45, 0.45, 0.47, 0.55, 0.47, 0.40, 0.39, 0.61, 0.52, 0.40, 0.17, 0.28];
var mntbWTMean   = [2.35, 2.74, 2.66, 2.97, 3.17, 3.35, 3.43, 3.58, 3.66, 3.82, 4.05, 4.12, 4.20, 4.82, 4.89, 5.35, 5.35, 5.32, 5.97, 6.86, 6.74, 7.02, 4.35, 2.77, 3.89];
var mntbWTJitter = [1.43, 0.95, 0.29, 0.62, 0.18, 0.91, 0.51, 1.28, 0.77, 0.51, 0.77, 1.88, 2.10, 1.21, 0.99, 2.16, 1.66, 0.99, 1.88, 2.38, 2.16, 1.06, 0.51, 0.18, 0.18];
var mntbKOMean   = [10.93, 8.58, 7.56, 7.35, 7.50, 7.07, 5.20, 4.72, 6.28, 9.58, 9.58, 11.58, 10.00, 9.15, 6.35, 6.58, 6.63, 6.82, 4.82, 4.51, 6.43, 4.58];
var mntbKOJitter = [11.55, 9.12, 7.90, 6.62, 5.54, 4.64, 4.92, 3.22, 3.64, 5.70, 5.36, 6.09, 3.93, 2.94, 2.27, 1.83, 1.39, 2.27, 1.83, 1.72, 1.61, 1.94];

var FONT = "'Liberation Serif', 'Times New Roman', Times, 'DejaVu Serif', serif";
var W = 648, H = 1001;
var svg = d3.select("#chart").append("svg")
    .attr("width", W)
    .attr("height", H)
    .attr("font-family", FONT)
    .style("font-family", FONT);

function styleAxis(g, fontSize, lineW) {
  g.attr("font-family", FONT).attr("font-size", fontSize);
  g.selectAll("text").style("font-family", FONT).style("font-size", fontSize + "px").style("fill", "#000");
  g.select(".domain").attr("stroke-width", lineW);
  g.selectAll(".tick line").attr("stroke-width", 1.5);
}

function addText(x, y, str, size, bold) {
  return svg.append("text")
      .attr("x", x).attr("y", y)
      .style("font-family", FONT)
      .style("font-size", size + "px")
      .style("font-weight", bold ? "bold" : "normal")
      .style("white-space", "pre")
      .text(str);
}

function title(letter, label, xL, xT, yB) {
  addText(xL, yB, letter, 24.5, true);
  addText(xT, yB, label, 24.5, true);
}

// one raster panel: each cell is a line through (latency, run)
function raster(traces, x0, x1, yBot, yTop, showY) {
  var x = d3.scaleLinear().domain([0, 50]).range([x0, x1]);
  var y = d3.scaleLinear().domain([0, 50]).range([yBot, yTop]);
  var line = d3.line()
      .x(function(d) { return x(d); })
      .y(function(d, i) { return y(i + 1); });

  var g = svg.append("g");
  traces.forEach(function(t) {
    var vals = t.trim().split(/\s+/).map(Number);
    g.append("path")
        .attr("d", line(vals))
        .style("fill", "none")
        .style("stroke", "#000")
        .style("stroke-width", 1.1);
  });

  var gx = svg.append("g")
      .attr("transform", "translate(0," + yBot + ")")
      .call(d3.axisBottom(x).tickValues(latTicks).tickSize(4).tickSizeOuter(0).tickPadding(10));
  styleAxis(gx, 24, 2);

  var gy = svg.append("g")
      .attr("transform", "translate(" + x0 + ",0)")
      .call(d3.axisLeft(y).tickValues(runTicks).tickSize(4).tickSizeOuter(0).tickPadding(1)
            .tickFormat(showY ? d3.format("d") : function() { return ""; }));
  styleAxis(gy, 24, 1.5);
}

// one scatter panel with a framed box
function scatter(wtM, wtJ, koM, koJ, xMax, yMax, xTicks, yTicks, x0, x1, yBot, yTop, padY) {
  var x = d3.scaleLinear().domain([0, xMax]).range([x0, x1]);
  var y = d3.scaleLinear().domain([0, yMax]).range([yBot, yTop]);

  svg.append("rect")
      .attr("x", x0).attr("y", yTop)
      .attr("width", x1 - x0).attr("height", yBot - yTop)
      .style("fill", "none").style("stroke", "#000").style("stroke-width", 2);

  var ko = koM.map(function(m, i) { return [m, koJ[i]]; });
  var wt = wtM.map(function(m, i) { return [m, wtJ[i]]; });

  svg.append("g").selectAll("circle").data(ko).enter().append("circle")
      .attr("cx", function(d) { return x(d[0]); })
      .attr("cy", function(d) { return y(d[1]); })
      .attr("r", 5.8)
      .style("fill", "none")
      .style("stroke", "#222").style("stroke-width", 1);

  svg.append("g").selectAll("circle").data(wt).enter().append("circle")
      .attr("cx", function(d) { return x(d[0]); })
      .attr("cy", function(d) { return y(d[1]); })
      .attr("r", 5.8)
      .style("fill", "#000");

  var gx = svg.append("g")
      .attr("transform", "translate(0," + yBot + ")")
      .call(d3.axisBottom(x).tickValues(xTicks).tickSize(4).tickSizeOuter(0).tickPadding(10)
            .tickFormat(d3.format("d")));
  styleAxis(gx, 24, 2);

  var gy = svg.append("g")
      .attr("transform", "translate(" + x0 + ",0)")
      .call(d3.axisLeft(y).tickValues(yTicks).tickSize(4).tickSizeOuter(0).tickPadding(padY)
            .tickFormat(d3.format("d")));
  styleAxis(gy, 24, 2);

  // legend
  var lx = x0 + 15, ly = yTop + 20;
  svg.append("circle").attr("cx", lx).attr("cy", ly).attr("r", 6).style("fill", "#000");
  addText(lx + 19, ly + 9, "+/+", 24, false);
  svg.append("circle").attr("cx", lx).attr("cy", ly + 26).attr("r", 4.5)
      .style("fill", "none").style("stroke", "#222").style("stroke-width", 1);
  addText(lx + 24, ly + 34, "-/-", 24, false);
}

// titles
title("A", "VCN +/+ (n = 12)", 13, 52, 33);
title("D", "MNTB +/+ (n = 25)", 336, 383, 33);
title("B", "VCN -/-  (n = 18)", 13, 52, 384);
title("E", "MNTB -/-  (n = 22)", 336, 381, 382);
title("C", "VCN", 13, 52, 717);
title("F", "MNTB", 336, 383, 717);

// rasters
raster(vcnWT, 52, 328, 245, 67, true);
raster(mntbWT, 355, 633, 244, 68, false);
raster(vcnKO, 52, 328, 585, 407, true);
raster(mntbKO, 353, 633, 585, 406, false);

// scatters
scatter(vcnWTMean, vcnWTJitter, vcnKOMean, vcnKOJitter, 11, 3, vcnXTicks, vcnYTicks, 68, 328, 922, 742, 1);
scatter(mntbWTMean, mntbWTJitter, mntbKOMean, mntbKOJitter, 12, 12, mntbXTicks, mntbYTicks, 375, 635, 922, 740, 3);

// axis titles
addText(331, 317, "First-Spike Latency [ms]", 24.5, true).attr("text-anchor", "middle");
addText(331, 658, "First-Spike Latency [ms]", 24.5, true).attr("text-anchor", "middle");
addText(331, 997, "Mean First-Spike Latency [ms]", 24.5, true).attr("text-anchor", "middle");

[[160, "Runs"], [498, "Runs"], [832, "Jitter [ms]"]].forEach(function(d) {
  addText(0, 0, d[1], 24.5, true)
     .attr("transform", "translate(34," + d[0] + ") rotate(-90)")
     .attr("text-anchor", "middle");
});
</script>
</body>
</html>
